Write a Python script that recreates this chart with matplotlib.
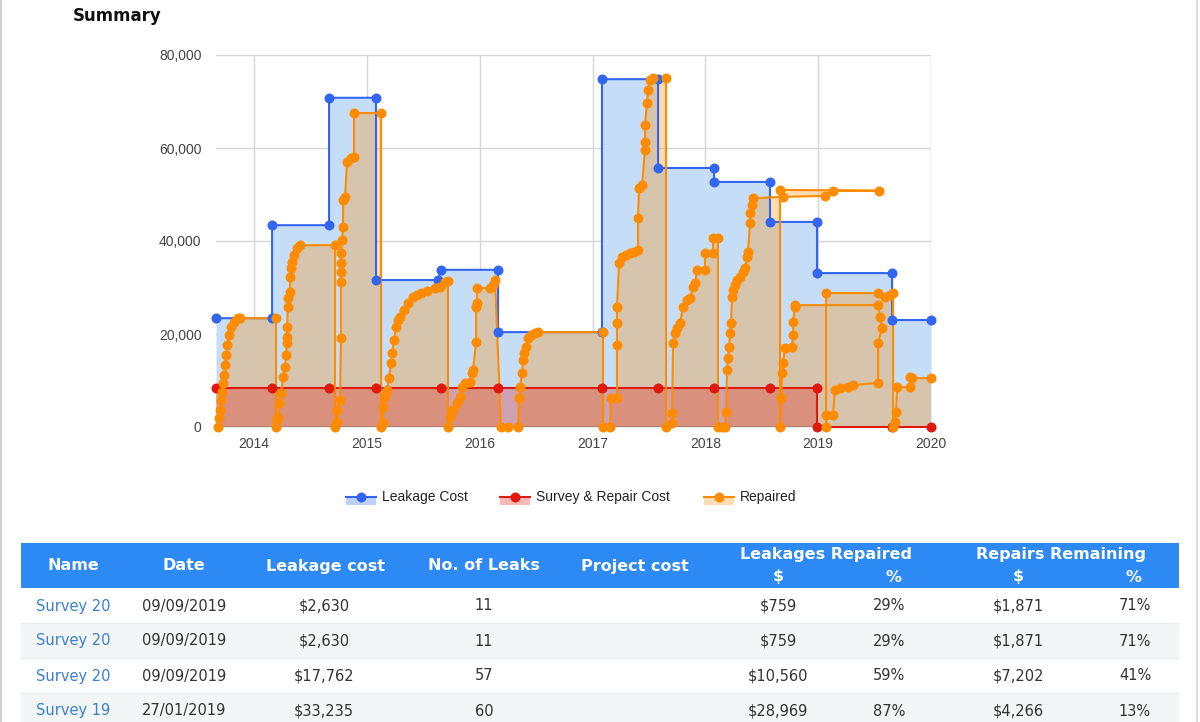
import matplotlib
matplotlib.use('Agg')
import matplotlib.pyplot as plt
from matplotlib.patches import Rectangle
from matplotlib.ticker import FuncFormatter

# ---- chart data (decimal years, $) ----
leak_year = [2013.663, 2014.160, 2014.160, 2014.665, 2014.665, 2015.081, 2015.081, 2015.630,
             2015.657, 2016.163, 2016.163, 2017.084, 2017.084, 2017.581, 2017.581, 2018.077,
             2018.077, 2018.573, 2018.573, 2018.990, 2018.990, 2019.655, 2019.655, 2020.000]
leak_value = [23400, 23400, 43400, 43400, 70800, 70800, 31600, 31600,
              33800, 33800, 20400, 20400, 74800, 74800, 55700, 55700,
              52700, 52700, 44100, 44100, 33100, 33100, 23000, 23000]

survey_year = [2013.663, 2014.160, 2014.665, 2015.081, 2015.657, 2016.163, 2017.084,
               2017.581, 2018.077, 2018.573, 2018.990, 2018.990, 2019.655, 2020.000]
survey_value = [8400, 8400, 8400, 8400, 8400, 8400, 8400,
                8400, 8400, 8400, 8400, 0, 0, 0]

repaired_year = [
    2013.681, 2013.690, 2013.699, 2013.708, 2013.716, 2013.725, 2013.734, 2013.743, 2013.752,
    2013.761, 2013.778, 2013.796, 2013.823, 2013.858, 2013.876, 2014.195, 2014.195,
    2014.204, 2014.213, 2014.222, 2014.239, 2014.257, 2014.275, 2014.284, 2014.292, 2014.292,
    2014.292, 2014.301, 2014.301, 2014.319, 2014.319, 2014.328, 2014.337, 2014.355, 2014.381,
    2014.408, 2014.718, 2014.718,
    2014.736, 2014.736, 2014.762, 2014.771, 2014.771, 2014.771, 2014.771, 2014.771, 2014.780,
    2014.789, 2014.789, 2014.807, 2014.824, 2014.860, 2014.886, 2014.886, 2015.126, 2015.126,
    2015.143, 2015.143, 2015.161, 2015.179, 2015.197, 2015.214, 2015.223, 2015.241, 2015.259,
    2015.276, 2015.294, 2015.329, 2015.365, 2015.409, 2015.445, 2015.480, 2015.533, 2015.604,
    2015.649, 2015.693, 2015.719, 2015.719,
    2015.737, 2015.764, 2015.799, 2015.826, 2015.844, 2015.870, 2015.914, 2015.932, 2015.941,
    2015.968, 2015.968, 2015.976, 2015.976, 2016.092, 2016.118, 2016.136, 2016.189,
    2016.251, 2016.340, 2016.349, 2016.358, 2016.375, 2016.384, 2016.393, 2016.411, 2016.428,
    2016.455, 2016.490, 2016.517, 2017.093, 2017.093,
    2017.155, 2017.164, 2017.217, 2017.217, 2017.217, 2017.217, 2017.235, 2017.262, 2017.297,
    2017.332, 2017.368, 2017.403, 2017.403, 2017.412, 2017.439, 2017.465, 2017.465, 2017.465,
    2017.483, 2017.492, 2017.510, 2017.536, 2017.652, 2017.652,
    2017.705, 2017.705, 2017.714, 2017.731, 2017.749, 2017.776, 2017.802, 2017.838, 2017.864,
    2017.891, 2017.909, 2017.926, 2017.997, 2017.997, 2018.068, 2018.068, 2018.112, 2018.112,
    2018.148, 2018.174, 2018.183, 2018.192, 2018.201, 2018.210, 2018.219, 2018.228, 2018.236,
    2018.245, 2018.263, 2018.281, 2018.307, 2018.334, 2018.352, 2018.369, 2018.378, 2018.396,
    2018.396, 2018.414, 2018.423, 2018.689, 2019.061, 2019.132, 2019.539, 2018.662, 2018.662,
    2018.671, 2018.680, 2018.689, 2018.706, 2018.768, 2018.777, 2018.777, 2018.795, 2018.795,
    2019.531, 2019.548, 2019.566, 2019.531, 2019.531, 2019.309, 2019.265, 2019.194, 2019.149,
    2019.132, 2019.070, 2019.070, 2019.070, 2019.531, 2019.593, 2019.637, 2019.664, 2019.664,
    2019.681, 2019.690, 2019.699, 2019.814, 2019.814, 2019.832, 2020.000]
repaired_value = [
    0, 1900, 3700, 5800, 7500, 9500, 11200, 13300, 15500,
    17600, 19800, 21500, 22600, 23400, 23400, 23400, 0,
    1500, 2200, 5200, 7300, 10800, 12900, 15500, 18100, 19400,
    21500, 25800, 27700, 29000, 32300, 34200, 35500, 37000, 38500,
    39100, 39100, 0,
    1100, 3700, 5800, 19100, 31200, 33300, 35300, 37400, 40200,
    43000, 48800, 49500, 57000, 57900, 58100, 67500, 67500, 0,
    900, 4300, 6500, 8000, 10500, 13800, 15900, 18700, 21500,
    23000, 23700, 25200, 26700, 28000, 28400, 28800, 29200, 29900,
    30100, 31200, 31400, 0,
    2200, 3700, 5200, 6500, 8600, 9500, 9700, 11600, 12300,
    18300, 25800, 26700, 29900, 29900, 30500, 31600, 0,
    0, 0, 6200, 8600, 11600, 14400, 15900, 17200, 19100,
    19800, 20200, 20400, 20400, 0,
    0, 6200, 6200, 17600, 22400, 25800, 35300, 36600, 37000,
    37400, 37600, 38100, 44900, 51400, 52000, 59600, 61300, 64900,
    69700, 72500, 74600, 75100, 75100, 0,
    900, 3000, 18100, 20200, 21300, 22400, 25800, 27300, 27700,
    30100, 31000, 33800, 33800, 37400, 37400, 40600, 40600, 0,
    0, 0, 3200, 12300, 14800, 17200, 20200, 22400, 28000,
    29500, 30500, 31600, 32300, 33300, 34200, 36600, 37600, 43900,
    46000, 47700, 49200, 49500, 49700, 50800, 50800, 51000, 0,
    6200, 11600, 13800, 17000, 17200, 19800, 22600, 25800, 26200,
    26200, 23700, 21300, 18100, 9500, 9000, 8600, 8400, 8000,
    2600, 2600, 0, 28800, 28800, 28000, 28400, 28800, 0,
    1100, 3200, 8600, 8600, 10800, 10500, 10500]

year_ticks = [2014, 2015, 2016, 2017, 2018, 2019, 2020]

# ---- table data ----
names = ['Survey 20', 'Survey 20', 'Survey 20', 'Survey 19']
dates = ['09/09/2019', '09/09/2019', '09/09/2019', '27/01/2019']
leak_cost = [2630, 2630, 17762, 33235]
n_leaks = [11, 11, 57, 60]
repaired_usd = [759, 759, 10560, 28969]
repaired_pct = [29, 29, 59, 87]
remaining_usd = [1871, 1871, 7202, 4266]
remaining_pct = [71, 71, 41, 13]

blue = '#3366f0'
red = '#e0190f'
orange = '#ff8c00'
blue_fill = '#c6ddf8'

W, H = 1200, 722
fig = plt.figure(figsize=(W / 100, H / 100), dpi=100)
fig.patch.set_facecolor('white')

ax = fig.add_axes([216 / W, 1 - 427 / H, (931 - 216) / W, (427 - 55) / H])
ax.set_xlim(2013.663, 2020.0)
ax.set_ylim(0, 80000)

# areas
ax.fill_between(leak_year, leak_value, color=blue_fill, lw=0, zorder=1)
ax.fill(repaired_year + [repaired_year[-1], repaired_year[0]], repaired_value + [0, 0],
        color=orange, alpha=0.3, lw=0, zorder=1.1)
ax.fill_between(survey_year, survey_value, color=red, alpha=0.3, lw=0, zorder=1.2)
ax.axhline(0, color='#333333', lw=1, zorder=1.5)

# lines, then points on top
for xs, ys, c in [(leak_year, leak_value, blue), (survey_year, survey_value, red),
                  (repaired_year, repaired_value, orange)]:
    ax.plot(xs, ys, color=c, lw=1.5, zorder=2, clip_on=False)
for xs, ys, c in [(leak_year, leak_value, blue), (survey_year, survey_value, red),
                  (repaired_year, repaired_value, orange)]:
    ax.plot(xs, ys, ls='none', marker='o', ms=7.2, mfc=c, mec=c, mew=0, zorder=3, clip_on=False)

ax.set_xticks(year_ticks)
ax.set_xticklabels([str(y) for y in year_ticks])
ax.set_yticks([0, 20000, 40000, 60000, 80000])
ax.yaxis.set_major_formatter(FuncFormatter(lambda v, p: f'{v:,.0f}'))
ax.grid(True, color='#d6d6d6', lw=1)
ax.set_axisbelow(True)
for s in ax.spines.values():
    s.set_visible(False)
ax.tick_params(length=0, labelsize=10, colors='#444444')
ax.tick_params(axis='y', pad=10.5)
ax.tick_params(axis='x', pad=7)
for lab in ax.get_xticklabels() + ax.get_yticklabels():
    lab.set_fontfamily('Liberation Sans')

# page overlay in pixel coordinates
page = fig.add_axes([0, 0, 1, 1], zorder=5)
page.set_xlim(0, W)
page.set_ylim(H, 0)
page.axis('off')
page.patch.set_alpha(0)

page.plot([1, 1], [0, H], color='#cfcfcf', lw=1.5)
page.plot([1197, 1197], [0, H], color='#dcdcdc', lw=1.5)

page.text(73, 16, 'Summary', fontsize=12, fontweight='bold', color='#111111',
          ha='left', va='center', family='DejaVu Sans')

# legend
legend_items = [('Leakage Cost', blue, 346), ('Survey & Repair Cost', red, 500), ('Repaired', orange, 704)]
for label, c, x0 in legend_items:
    page.add_patch(Rectangle((x0, 497), 30, 8, color=c, alpha=0.3, lw=0))
    page.plot([x0, x0 + 30], [497, 497], color=c, lw=1.5)
    page.plot([x0 + 15], [497], marker='o', ms=7.2, color=c, mew=0)
    page.text(x0 + 36, 497, label, fontsize=10, color='#222222', ha='left', va='center',
              family='Liberation Sans')

# table
page.add_patch(Rectangle((21, 543), 1158, 45, color='#2d8af5', lw=0))
hdr = dict(color='white', fontweight='bold', fontsize=11.5, family='DejaVu Sans', va='center', ha='center')
for txt, x in [('Name', 73), ('Date', 184), ('Leakage cost', 325), ('No. of Leaks', 484),
               ('Project cost', 635)]:
    page.text(x, 566, txt, **hdr)
page.text(826, 554, 'Leakages Repaired', **hdr)
page.text(778, 577, '$', **hdr)
page.text(894, 577, '%', **hdr)
page.text(1061, 554, 'Repairs Remaining', **hdr)
page.text(1018, 577, '$', **hdr)
page.text(1134, 577, '%', **hdr)

row_top = 588
row_h = 35
body = dict(fontsize=10.5, family='DejaVu Sans', va='center', color='#333333')
for i in range(len(names)):
    y0 = row_top + i * row_h
    if i % 2 == 1:
        page.add_patch(Rectangle((21, y0), 1158, row_h, color='#f3f6f6', lw=0))
    page.plot([21, 1179], [y0 + row_h, y0 + row_h], color='#e9eded', lw=1)
    yc = y0 + row_h / 2 + 0.5
    page.text(36, yc, names[i], ha='left', **{**body, 'color': '#3b7fd0'})
    page.text(184, yc, dates[i], ha='center', **body)
    page.text(324, yc, f'${leak_cost[i]:,}', ha='center', **body)
    page.text(484, yc, str(n_leaks[i]), ha='center', **body)
    page.text(778, yc, f'${repaired_usd[i]:,}', ha='center', **body)
    page.text(889, yc, f'{repaired_pct[i]}%', ha='center', **body)
    page.text(1018, yc, f'${remaining_usd[i]:,}', ha='center', **body)
    page.text(1135, yc, f'{remaining_pct[i]}%', ha='center', **body)

fig.savefig('out.png', dpi=100)
